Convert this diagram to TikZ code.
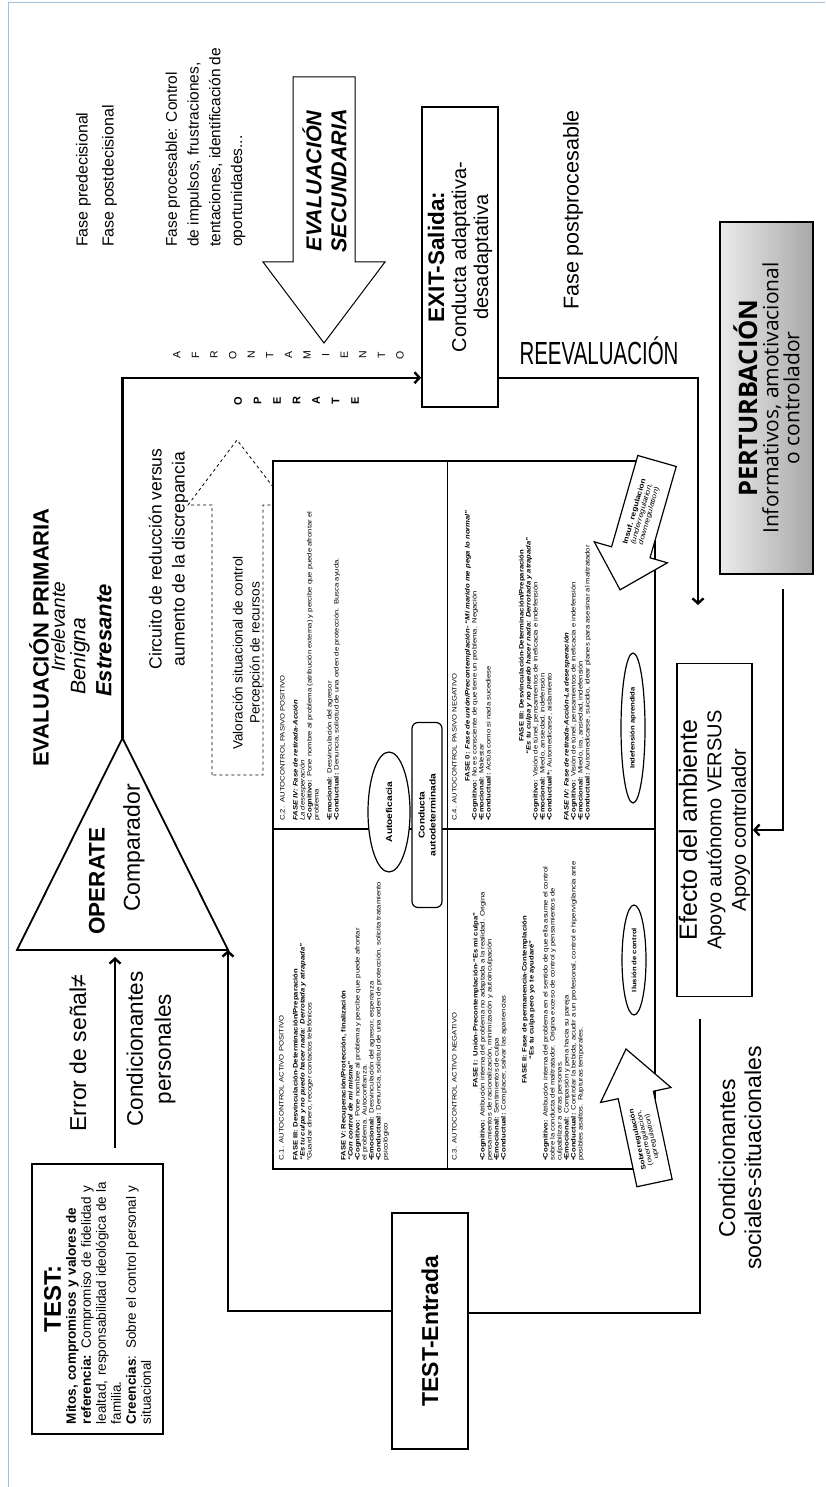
\documentclass[tikz,border=0pt]{standalone}
\usepackage{fontspec}
\setmainfont{Liberation Sans}
\newfontfamily\tabfont[FakeStretch=1.2]{Liberation Sans}
\newfontfamily\narrowfont[FakeStretch=0.64]{Liberation Sans}
\newfontfamily\perfont{Open Sans}
\usetikzlibrary{arrows.meta,calc,positioning,shapes.geometric}
\definecolor{pageline}{RGB}{165,190,215}
\tikzset{
  lbl/.style={rotate=90, align=center, inner sep=0pt},
  box/.style={draw, line width=1.8pt, rotate=90, align=center, inner sep=2pt, fill=white},
  thickline/.style={line width=2.4pt},
  conn/.style={thickline, -{Straight Barb[length=5pt,width=11pt]}},
  cell/.style={rotate=90, anchor=north west, inner sep=0pt, align=left,
    font=\tabfont\fontsize{6.4}{7}\selectfont},
  oval/.style={draw, ellipse, fill=white, line width=1.2pt, rotate=90, inner sep=0pt,
    align=center, font=\tabfont\bfseries\fontsize{6.4}{7.5}\selectfont},
  blockarrow/.style={draw, line width=1.2pt, fill=white, line join=miter},
}
\begin{document}
\begin{tikzpicture}[x=1pt,y=-1pt]
	\useasboundingbox (0,0) rectangle (825,1487);
	\draw[pageline, line width=1pt] (8,1487) -- (8,3) -- (825,3);
	% phases and secondary appraisal
	\node[lbl, anchor=west, align=left, font=\fontsize{16}{26}\selectfont] (fases) at (96.5,247)
	{Fase predecisional\\Fase postdecisional};
	\node[lbl, anchor=west, align=left, font=\fontsize{15.5}{21.7}\selectfont] (procesable) at (205.5,247)
	{Fase procesable: Control\\de impulsos, frustraciones,\\tentaciones, identificación de\\oportunidades...};
	\draw[line width=1pt, fill=white, line join=miter] (293,77) -- (355,77) -- (355,262) -- (385,262)
	-- (324,343) -- (263,262) -- (293,262) -- cycle;
	\node[lbl, font=\bfseries\itshape\fontsize{21.5}{25}\selectfont] (secundaria) at (324.5,181)
	{EVALUACIÓN\\SECUNDARIA};
	\node[lbl, font=\fontsize{10.5}{18.6}\selectfont] (afront) at (288.5,355)
	{A\\F\\R\\O\\N\\T\\A\\M\\I\\E\\N\\T\\O};
	\node[lbl, font=\bfseries\fontsize{11}{19.5}\selectfont] (operletters) at (296.5,401)
	{O\\P\\E\\R\\A\\T\\E};
	\node[box, minimum width=300pt, minimum height=76pt, font=\fontsize{20}{22}\selectfont] (exit) at (460,257)
	{{\bfseries\fontsize{22.5}{22}\selectfont EXIT-Salida:}\\Conducta adaptativa-\\desadaptativa};
	\node[font=\narrowfont\fontsize{32}{32}\selectfont, inner sep=0pt] (reeval) at (599,351) {REEVALUACIÓN};
	\node[lbl, anchor=west, font=\fontsize{21.5}{24}\selectfont] (postproc) at (573,310) {Fase postprocesable};
	\shade[left color=black!8, right color=black!34] (720,222) rectangle (813,574);
	\node[box, fill=none, line width=1.2pt, minimum width=352pt, minimum height=93pt,
	font=\perfont\fontsize{21}{21}\selectfont] (pert) at (766.5,398)
	{{\bfseries\fontsize{25.5}{25}\selectfont PERTURBACIÓN}\\Informativos, amotivacional\\o controlador};
	% primary appraisal and comparator
	\node[lbl, anchor=west, font=\bfseries\fontsize{22}{24}\selectfont] (primaria) at (39,767) {EVALUACIÓN PRIMARIA};
	\node[lbl, anchor=west, font=\itshape\fontsize{19}{22}\selectfont] (irrelevante) at (58,672) {Irrelevante};
	\node[lbl, anchor=west, font=\itshape\fontsize{21}{22}\selectfont] (benigna) at (80,695) {Benigna};
	\node[lbl, anchor=west, font=\bfseries\itshape\fontsize{22}{22}\selectfont] (estresante) at (104,697) {Estresante};
	\node[lbl, font=\fontsize{17.5}{23}\selectfont] (circuito) at (168.5,559)
	{Circuito de reducción versus\\aumento de la discrepancia};
	\draw[dashed, line width=0.8pt, fill=white] (212,775) -- (212,505) -- (188,505) -- (237,440)
	-- (287,505) -- (263,505) -- (263,775) -- cycle;
	\node[lbl, font=\fontsize{13.5}{17}\selectfont] (valoracion) at (247.5,653)
	{Valoración situacional de control\\Percepción de recursos};
	\coordinate (t1) at (17,950);
	\coordinate (t2) at (228,950);
	\coordinate (t3) at (122.5,738);
	\draw[line width=1.8pt, line join=miter] (t1) -- (t2) -- (t3) -- cycle;
	\node[lbl, font=\bfseries\fontsize{22.5}{24}\selectfont] (operate) at (97,881) {OPERATE};
	\node[lbl, font=\fontsize{23}{24}\selectfont] (comparador) at (134,848) {Comparador};
	\node[lbl, font=\fontsize{23}{26}\selectfont] (error) at (78,1053) {Error de señal≠};
	\node[lbl, font=\fontsize{22.5}{28}\selectfont] (personales) at (151,1049) {Condicionantes\\personales};
	% test boxes
	\node[box, line width=1.5pt, minimum width=270pt, minimum height=131pt, text width=250pt, align=left,
	font=\fontsize{13.5}{15}\selectfont] (test) at (97.5,1299)
	{{\centering\bfseries\fontsize{24}{26}\selectfont TEST:\par}
	\textbf{Mitos, compromisos y valores de}\\\textbf{referencia:} Compromiso de fidelidad y\\lealtad, responsabilidad ideológica de la\\familia.\\\textbf{Creencias}: Sobre el control personal y\\situacional};
	\node[box, minimum width=236pt, minimum height=76pt, font=\bfseries\fontsize{23}{24}\selectfont] (entrada) at (430,1331)
	{TEST-Entrada};
	\node[box, line width=1.5pt, minimum width=333pt, minimum height=75pt, font=\fontsize{20}{24.5}\selectfont] (efecto) at (714.5,830)
	{{\fontsize{25}{25}\selectfont Efecto del ambiente}\\Apoyo autónomo VERSUS\\Apoyo controlador};
	\node[lbl, font=\fontsize{23}{26}\selectfont] (sociales) at (740,1158) {Condicionantes\\sociales-situacionales};
	% table of self-control
	\draw[line width=1.8pt, fill=white] (273,461) rectangle (655,1169);
	\draw[line width=1.8pt] (273,829) -- (655,829);
	\draw[line width=1pt] (447,461) -- (447,1169);
	\node[cell, text width=322pt] (c1) at (279,1161)
	{C.1. AUTOCONTROL ACTIVO POSITIVO\par\vspace{7pt}
	\textbf{FASE III: Desvinculación-Determinación/Preparación}\par
	\textbf{\textit{“Es tu culpa y no puedo hacer nada: Derrotada y atrapada”}}\par
	“Guardar dinero, recoger contactos telefónicos\par\vspace{27pt}
	\textbf{FASE V: Recuperación/Protección, finalización}\par
	\textbf{\textit{“Con control de mi misma”}}\par
	•\textbf{Cognitivo:} Pone nombre al problema y percibe que puede afrontar\\el problema. Autoconfianza.\par
	•\textbf{Emocional:} Desvinculación del agresor, esperanza\par
	•\textbf{Conductual:} Denuncia, solicitud de una orden de protección, solicita tratamiento\\psicológico};
	\node[cell, text width=350pt] (c2) at (280,821)
	{C.2.\ \ AUTOCONTROL PASIVO POSITIVO\par\vspace{6pt}
	\textbf{\textit{FASE IV: Fase de retirada-Acción}}\par
	\textit{La desesperación}\par
	•\textbf{Cognitivo:} Pone nombre al problema (atribución externa) y percibe que puede afrontar el\\problema\par\vspace{6pt}
	•\textbf{Emocional:} Desvinculación del agresor\par
	•\textbf{Conductual:} Denuncia, solicitud de una orden de protección. Busca ayuda.};
	\node[cell, text width=322pt] (c3) at (452,1161)
	{C.3. AUTOCONTROL ACTIVO NEGATIVO\par\vspace{14pt}
	{\centering\textbf{FASE I:\ \ Unión-Precontemplación-“Es mi culpa”}\par}
	•\textbf{Cognitivo:} Atribución interna del problema no adaptada a la realidad. Origina\\pensamientos de racionalización, minimización y autoinculpación\par
	•\textbf{Emocional:} Sentimientos de culpa\par
	•\textbf{Conductual:} Complacer, salvar las apariencias\par\vspace{14pt}
	{\centering\textbf{FASE II: Fase de permanencia-Contemplación}\\\textbf{“Es tu culpa pero yo te ayudaré”}\par}
	\vspace{7pt}
	•\textbf{Cognitivo:} Atribución interna del problema en el sentido de que ella asume el control\\sobre la conducta del maltratador. Origina exceso de control y pensamientos de\\culpabilizar a otras personas.\par
	•\textbf{Emocional:} Compasión y pena hacia su pareja\par
	•\textbf{Conductual:} Controlar la bebida, acudir a un profesional, control e hipervigilancia ante\\posibles asaltos. Rupturas temporales.};
	\node[cell, text width=350pt] (c4) at (452,821)
	{C.4. AUTOCONTROL PASIVO NEGATIVO\par\vspace{6pt}
	{\centering\textbf{FASE 0: \textit{Fase de unión/Precontemplación- “Mi marido me pega lo normal”}}\par}
	•\textbf{Cognitivo:} No es consciente de que tiene un problema. Negación\par
	•\textbf{Emocional:} Malestar\par
	•\textbf{Conductual:} Actúa como si nada sucediese\par\vspace{26pt}
	{\centering\textbf{FASE III: Desvinculación-Determinación/Preparación}\\\textbf{\textit{“Es tu culpa y no puedo hacer nada: Derrotada y atrapada”}}\par}
	•\textbf{Cognitivo:} Visión de túnel, pensamientos de ineficacia e indefensión\par
	•\textbf{Emocional:} Miedo, ansiedad, indefensión\par
	•\textbf{Conductual*:} Automedicarse, aislamiento\par\vspace{10pt}
	\textbf{\textit{FASE IV: Fase de retirada-Acción-La desesperación}}\par
	•\textbf{Cognitivo:} Visión de túnel, pensamientos de ineficacia e indefensión\par
	•\textbf{Emocional:} Miedo, ira, ansiedad, indefensión\par
	•\textbf{Conductual:} Automedicarse, suicidio, idear planes para asesinar al maltratador};
	\node[oval, minimum width=120pt, minimum height=42pt, font=\tabfont\bfseries\fontsize{8.5}{9}\selectfont] (autoef) at (389,812) {Autoeficacia};
	\node[draw, rounded corners=6pt, fill=white, line width=1.2pt, rotate=90, minimum width=185pt, minimum height=30pt,
	align=center, inner sep=0pt, font=\tabfont\bfseries\fontsize{8.5}{11}\selectfont] (autodet) at (427,815) {Conducta\\autodeterminada};
	\node[oval, minimum width=110pt, minimum height=24pt] (ilusion) at (634,960) {Ilusión de control};
	\node[oval, minimum width=150pt, minimum height=24pt] (indef) at (633,728) {Indefensión aprendida};
	% regulation arrows on the corners
	\begin{scope}[shift={(657,461)}, rotate=-106]
		\draw[blockarrow] (0,-20) -- (95,-20) -- (95,-38) -- (134,0) -- (95,38) -- (95,20) -- (0,20) -- cycle;
		\node[rotate=74, align=center, inner sep=0pt, font=\tabfont\fontsize{7}{7.5}\selectfont] (insuf) at (55,0)
		{\textbf{Insuf. regulacion}\\\textit{(underregulation,}\\\textit{downregulation)}};
	\end{scope}
	\begin{scope}[shift={(654.5,1183)}, rotate=102]
		\draw[blockarrow] (0,-18) -- (90,-18) -- (90,-36) -- (137,0) -- (90,36) -- (90,18) -- (0,18) -- cycle;
		\node[rotate=102, align=center, inner sep=0pt, font=\tabfont\fontsize{6.6}{7.2}\selectfont] (sobre) at (46,0)
		{\textbf{Sobreregulación}\\(overregulación,\\upregulation)};
	\end{scope}
	% connectors
	\coordinate (exitin) at ($(exit.north west)!0.1!(exit.north east)$);
	\coordinate (exitout) at ($(exit.south west)!0.1!(exit.south east)$);
	\coordinate (effin) at (698,605);
	\coordinate (pertout) at (783,589);
	\coordinate (sitend) at (700,1019);
	\coordinate (errtail) at (115,1148);
	\draw[conn] (t3) |- (exitin);
	\draw[conn] (exitout) -| (effin);
	\draw[conn] (pertout) |- (efecto.south);
	\draw[conn] ($(entrada.north)+(0,-20)$) -| (t2);
	\draw[thickline] ($(entrada.south)+(0,-18)$) -| (sitend);
	\draw[conn, shorten >=7pt] (errtail) -- (errtail |- t1);
\end{tikzpicture}
\end{document}
